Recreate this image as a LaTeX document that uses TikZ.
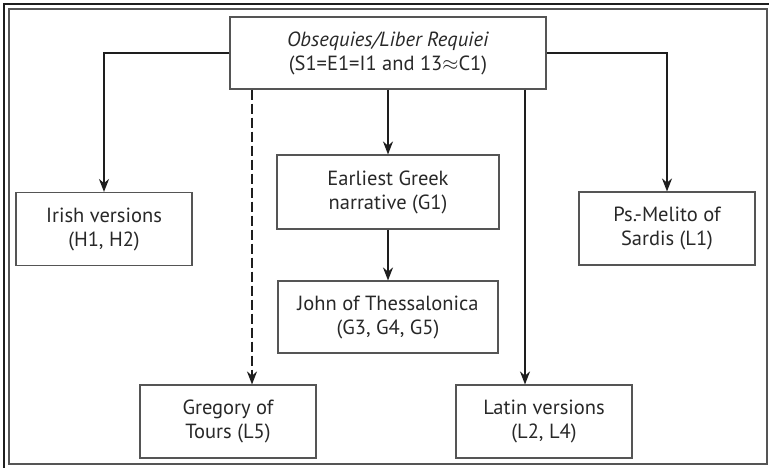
\documentclass[tikz,border=0pt]{standalone}
\usepackage{fontspec}
\setmainfont{PT Sans}
\usetikzlibrary{arrows.meta,positioning}
\definecolor{AsmInk}{RGB}{30,30,30}
\definecolor{AsmLine}{RGB}{85,85,85}
\definecolor{AsmText}{RGB}{40,40,40}
\tikzset{
  asm/box/.style={
    draw=AsmLine,
    line width=1.1pt,
    fill=white,
    align=center,
    text=AsmText,
    minimum width=176pt,
    minimum height=73pt,
    inner sep=0pt,
    font=\fontsize{20.5}{24}\selectfont
  },
  asm/arrow/.style={-{Stealth[length=13pt,width=10pt]}, line width=2pt, draw=AsmInk},
  asm/dasharrow/.style={-{Stealth[length=13pt,width=10pt]}, line width=2pt, draw=AsmInk, dash pattern=on 10pt off 4pt},
  asm/frame/.style={draw=AsmLine, line width=1.1pt}
}
\begin{document}
\begin{tikzpicture}[x=1pt,y=-1pt]
  \useasboundingbox (0,0) rectangle (769,468);
  % double frame
  \draw[draw=AsmInk, line width=2pt] (4,468) -- (4,4) -- (769,4);
  \draw[asm/frame] (9,9) rectangle (767,464);

  \node[asm/box,minimum width=316pt,minimum height=72pt] (source) at (388,53)
    {\textit{Obsequies/Liber Requiei}\\(S1=E1=I1 and 13$\approx$C1)};
  \node[asm/box] (irish) at (104,229) {Irish versions\\(H1, H2)};
  \node[asm/box,minimum width=222pt,minimum height=74pt] (greek) at (388,192) {Earliest Greek\\narrative (G1)};
  \node[asm/box,minimum width=220pt,minimum height=72pt] (john) at (388,317) {John of Thessalonica\\(G3, G4, G5)};
  \node[asm/box] (melito) at (667,228.5) {Ps.-Melito of\\Sardis (L1)};
  \node[asm/box] (gregory) at (228,421.5) {Gregory of\\Tours (L5)};
  \node[asm/box] (latin) at (544,421.5) {Latin versions\\(L2, L4)};

  \coordinate (gregx) at (252,0);
  \coordinate (latx) at (525,0);

  \draw[asm/arrow] (source.west) -| (irish.north);
  \draw[asm/arrow] (source.east) -| (melito.north);
  \draw[asm/arrow] (source.south) -- (greek.north);
  \draw[asm/arrow] (greek.south) -- (john.north);
  \draw[asm/dasharrow] (gregx |- source.south) -- (gregx |- gregory.north);
  \draw[asm/arrow] (latx |- source.south) -- (latx |- latin.north);
\end{tikzpicture}
\end{document}
